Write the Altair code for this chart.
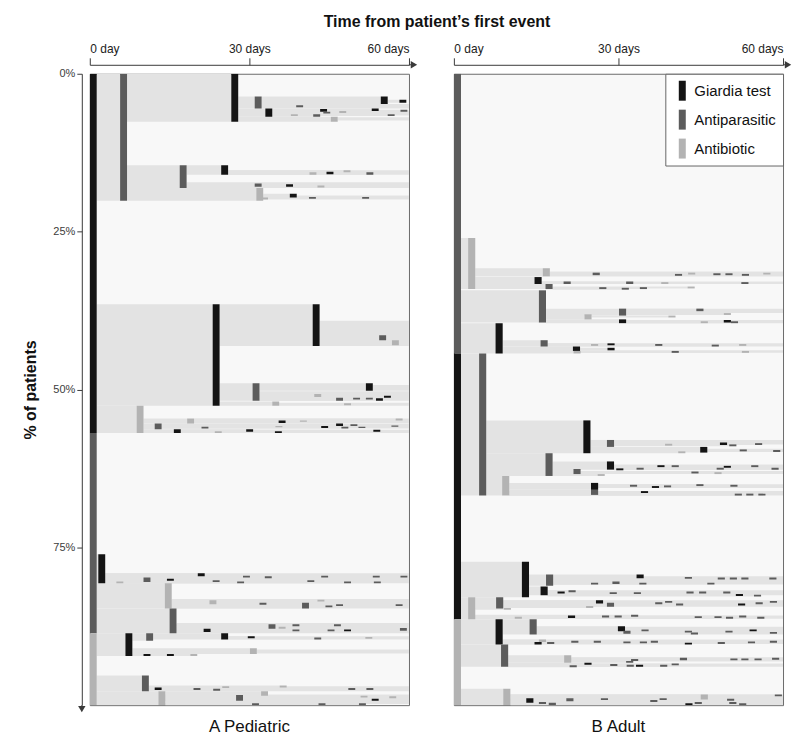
import altair as alt
import pandas as pd

# ------------------------------------------------------------------
# Data: one row per event node of the sequence tree
# (id, parent id, kind, start day, top %, bottom %)
# kind: T = Giardia test, P = antiparasitic, B = antibiotic, - = none in window
# ------------------------------------------------------------------
PED_ROOTS = [
    ("P1", None, "T", 0, 0, 56.9),
    ("P2", None, "P", 0, 56.9, 88.6),
    ("P3", None, "B", 0, 88.6, 100),
]

PED_TEST_BRANCH = [
    ("P1a", "P1", "P", 5.7, 0, 20.1),
    ("P1b", "P1", "T", 23.1, 36.5, 52.6),
    ("P1c", "P1", "B", 8.8, 52.6, 56.9),
    ("P1a1", "P1a", "T", 26.6, 0, 7.6),
    ("P1a2", "P1a", "P", 16.9, 14.5, 18.1),
    ("P1a3", "P1a", "B", 31.3, 18.1, 20.1),
    ("P1a1a", "P1a1", "P", 31.0, 3.6, 5.5),
    ("P1a1b", "P1a1", "T", 33.0, 5.5, 6.8),
    ("P1a1c", "P1a1", "B", 45.3, 6.8, 7.6),
    ("P1a1a1", "P1a1a", "T", 54.7, 3.6, 4.8),
    (None, "P1a1a1", "T", 58.2, 4.1, 4.6),
    (None, "P1a1a", "-", 60, 4.8, 5.5),
    (None, "P1a1a", "P", 38.8, 5.0, 5.3),
    (None, "P1a1b", "-", 60, 5.8, 6.6),
    (None, "P1a1b", "T", 43.3, 5.6, 6.0),
    (None, "P1a1b", "P", 43.9, 6.0, 6.3),
    (None, "P1a1b", "B", 46.9, 5.9, 6.2),
    (None, "P1a1b", "T", 53.0, 5.5, 5.9),
    (None, "P1a1b", "P", 58.4, 5.7, 6.0),
    (None, "P1a1b", "B", 37.8, 6.4, 6.7),
    (None, "P1a1b", "P", 42.0, 6.4, 6.8),
    (None, "P1a1b", "P", 56.0, 6.4, 6.7),
    (None, "P1a1c", "-", 60, 6.9, 7.4),
    ("P1a2a", "P1a2", "T", 24.7, 14.5, 16.0),
    (None, "P1a2a", "-", 60, 15.3, 16.0),
    (None, "P1a2a", "B", 41.3, 15.6, 16.0),
    (None, "P1a2a", "T", 44.5, 15.5, 15.9),
    (None, "P1a2a", "B", 47.7, 15.3, 15.6),
    (None, "P1a2a", "P", 52.0, 15.6, 16.0),
    (None, "P1a2", "-", 60, 17.2, 18.1),
    (None, "P1a2", "T", 36.9, 17.5, 17.9),
    (None, "P1a2", "P", 31.0, 17.4, 17.9),
    (None, "P1a2", "B", 42.8, 17.7, 18.0),
    (None, "P1a3", "-", 60, 19.3, 19.9),
    (None, "P1a3", "T", 37.6, 19.0, 19.6),
    (None, "P1a3", "P", 41.2, 19.5, 19.8),
    (None, "P1a3", "P", 51.2, 19.5, 19.8),
    (None, "P1a3", "B", 32.2, 19.6, 19.9),
    ("P1b1", "P1b", "T", 41.9, 36.5, 43.1),
    ("P1b2", "P1b", "P", 30.6, 49.0, 51.8),
    ("P1b3", "P1b", "B", 34.3, 51.9, 52.6),
    (None, "P1b1", "-", 60, 39.1, 43.1),
    (None, "P1b1", "P", 54.4, 41.4, 42.2),
    (None, "P1b1", "B", 56.8, 42.2, 43.0),
    ("P1b2a", "P1b2", "T", 51.9, 49.0, 50.2),
    (None, "P1b2a", "-", 60, 49.3, 50.2),
    (None, "P1b2", "-", 60, 50.3, 51.8),
    (None, "P1b2", "B", 42.2, 50.7, 51.2),
    (None, "P1b2", "P", 46.3, 51.3, 51.8),
    (None, "P1b2", "T", 53.8, 51.4, 51.8),
    (None, "P1b2", "T", 55.3, 51.0, 51.3),
    (None, "P1b2", "P", 49.5, 51.3, 51.6),
    (None, "P1b2", "P", 51.9, 51.3, 51.6),
    (None, "P1b3", "-", 60, 52.1, 52.6),
    (None, "P1b3", "B", 47.8, 52.2, 52.5),
    ("P1c1", "P1c", "B", 18.3, 54.6, 55.4),
    ("P1c2", "P1c", "P", 12.2, 55.4, 56.3),
    ("P1c3", "P1c", "T", 15.8, 56.3, 56.9),
    (None, "P1c1", "-", 60, 54.6, 55.3),
    (None, "P1c1", "T", 35.5, 54.9, 55.3),
    (None, "P1c1", "B", 39.5, 54.9, 55.1),
    (None, "P1c1", "B", 57.5, 54.6, 54.9),
    (None, "P1c2", "-", 60, 55.4, 56.2),
    (None, "P1c2", "P", 21.0, 55.9, 56.2),
    (None, "P1c2", "T", 43.5, 55.8, 56.1),
    (None, "P1c2", "T", 46.3, 55.4, 55.8),
    (None, "P1c2", "P", 47.3, 55.9, 56.2),
    (None, "P1c2", "P", 49.0, 55.5, 55.8),
    (None, "P1c2", "P", 50.5, 55.9, 56.1),
    (None, "P1c2", "P", 56.7, 55.7, 55.9),
    (None, "P1c2", "B", 34.9, 55.8, 56.0),
    (None, "P1c3", "-", 60, 56.4, 56.9),
    (None, "P1c3", "T", 29.4, 56.3, 56.7),
    (None, "P1c3", "T", 34.8, 56.6, 56.9),
    (None, "P1c3", "T", 53.3, 56.4, 56.7),
    (None, "P1c3", "B", 23.5, 56.6, 56.9),
]

PED_ANTI_BRANCH = [
    ("P2a", "P2", "T", 1.6, 76.1, 80.7),
    ("P2b", "P2", "B", 14.1, 80.7, 84.7),
    ("P2c", "P2", "P", 15.0, 84.7, 88.6),
    (None, "P2a", "-", 60, 79.1, 80.7),
    (None, "P2a", "T", 20.3, 79.1, 79.6),
    (None, "P2a", "P", 28.8, 79.5, 79.8),
    (None, "P2a", "P", 32.9, 79.6, 79.9),
    (None, "P2a", "P", 43.5, 79.5, 79.8),
    (None, "P2a", "P", 53.2, 79.5, 79.8),
    (None, "P2a", "P", 58.4, 79.5, 79.8),
    (None, "P2a", "P", 10.1, 79.8, 80.5),
    (None, "P2a", "T", 14.5, 80.0, 80.3),
    (None, "P2a", "P", 23.1, 80.2, 80.5),
    (None, "P2a", "P", 27.7, 80.4, 80.7),
    (None, "P2a", "P", 40.9, 80.2, 80.5),
    (None, "P2a", "P", 47.8, 80.4, 80.7),
    (None, "P2a", "P", 53.4, 80.4, 80.7),
    (None, "P2a", "B", 5.0, 80.4, 80.7),
    (None, "P2b", "-", 60, 83.2, 84.7),
    (None, "P2b", "B", 22.5, 83.4, 84.0),
    (None, "P2b", "P", 39.9, 83.8, 84.7),
    (None, "P2b", "P", 31.9, 83.8, 84.1),
    (None, "P2b", "P", 44.3, 84.2, 84.5),
    (None, "P2b", "P", 46.3, 84.0, 84.3),
    (None, "P2b", "B", 42.8, 83.3, 83.6),
    (None, "P2b", "P", 57.5, 84.0, 84.3),
    (None, "P2c", "-", 60, 87.0, 88.6),
    (None, "P2c", "T", 21.4, 87.9, 88.4),
    (None, "P2c", "P", 33.6, 87.2, 87.9),
    (None, "P2c", "P", 38.1, 87.2, 87.5),
    (None, "P2c", "P", 45.9, 87.2, 87.5),
    (None, "P2c", "P", 38.1, 88.0, 88.3),
    (None, "P2c", "P", 44.7, 88.0, 88.3),
    (None, "P2c", "T", 47.8, 88.0, 88.3),
    (None, "P2c", "P", 58.3, 87.8, 88.2),
    (None, "P2c", "B", 35.5, 87.6, 87.9),
]

PED_ABX_BRANCH = [
    ("P3a", "P3", "T", 6.7, 88.6, 92.2),
    ("P3b", "P3", "P", 9.8, 95.3, 97.8),
    ("P3c", "P3", "B", 12.9, 97.8, 100),
    ("P3a1", "P3a", "P", 10.6, 88.6, 89.8),
    ("P3a1a", "P3a1", "T", 24.7, 88.6, 89.6),
    (None, "P3a1a", "-", 60, 89.1, 89.6),
    (None, "P3a1a", "T", 29.7, 89.1, 89.4),
    (None, "P3a1a", "P", 42.2, 89.3, 89.6),
    (None, "P3a1a", "B", 51.8, 89.2, 89.5),
    ("P3a2", "P3a", "B", 30.1, 91.0, 91.9),
    (None, "P3a2", "-", 60, 91.2, 91.8),
    (None, "P3a", "T", 10.1, 91.9, 92.2),
    (None, "P3a", "T", 14.5, 91.9, 92.2),
    (None, "P3a", "B", 18.9, 91.9, 92.2),
    (None, "P3b", "-", 60, 97.0, 97.8),
    (None, "P3b", "T", 12.2, 97.2, 97.6),
    (None, "P3b", "P", 19.5, 97.3, 97.6),
    (None, "P3b", "P", 23.2, 97.4, 97.7),
    (None, "P3b", "B", 24.9, 97.0, 97.3),
    (None, "P3b", "B", 35.7, 96.9, 97.2),
    (None, "P3b", "P", 48.6, 97.3, 97.6),
    (None, "P3b", "P", 52.0, 97.3, 97.6),
    (None, "P3c", "-", 60, 98.3, 99.8),
    (None, "P3c", "B", 32.2, 97.8, 98.5),
    (None, "P3c", "P", 27.5, 98.4, 99.3),
    (None, "P3c", "T", 53.0, 99.0, 99.3),
    (None, "P3c", "P", 30.5, 99.7, 100),
    (None, "P3c", "B", 50.9, 98.5, 98.8),
    (None, "P3c", "B", 56.3, 98.6, 98.9),
    (None, "P3c", "P", 43.0, 99.7, 100),
    (None, "P3c", "P", 50.6, 99.7, 100),
]

AD_ROOTS = [
    ("A1", None, "P", 0, 0, 44.3),
    ("A2", None, "T", 0, 44.3, 86.4),
    ("A3", None, "B", 0, 86.4, 100),
]

AD_ANTI_BRANCH = [
    ("A1a", "A1", "B", 2.6, 26.0, 34.1),
    ("A1b", "A1", "P", 15.5, 34.3, 39.4),
    ("A1c", "A1", "T", 7.6, 39.5, 44.3),
    ("A1a1", "A1a", "B", 16.2, 30.8, 32.1),
    ("A1a2", "A1a", "T", 14.7, 32.2, 33.3),
    ("A1a3", "A1a", "P", 16.7, 33.3, 34.1),
    (None, "A1a1", "-", 60, 31.3, 32.1),
    (None, "A1a1", "P", 25.3, 31.5, 31.9),
    (None, "A1a1", "P", 40.3, 31.7, 32.0),
    (None, "A1a1", "P", 47.3, 31.6, 31.9),
    (None, "A1a1", "P", 49.5, 31.6, 31.9),
    (None, "A1a1", "B", 42.7, 31.5, 31.8),
    (None, "A1a1", "P", 52.5, 31.7, 32.0),
    (None, "A1a1", "B", 56.4, 31.5, 31.8),
    (None, "A1a2", "-", 60, 32.9, 33.3),
    (None, "A1a2", "P", 20.0, 32.9, 33.3),
    (None, "A1a2", "P", 31.4, 32.9, 33.3),
    (None, "A1a2", "P", 52.4, 33.0, 33.3),
    (None, "A1a2", "B", 37.8, 33.0, 33.3),
    (None, "A1a3", "P", 26.5, 33.8, 34.1),
    (None, "A1a3", "P", 30.6, 33.9, 34.2),
    (None, "A1a3", "P", 33.9, 33.8, 34.1),
    (None, "A1a3", "B", 42.6, 33.7, 34.0),
    ("A1b1", "A1b", "P", 30.1, 37.2, 38.3),
    ("A1b2", "A1b", "B", 23.8, 38.1, 38.9),
    ("A1b3", "A1b", "T", 30.1, 38.9, 39.5),
    (None, "A1b1", "-", 60, 37.2, 37.9),
    (None, "A1b1", "P", 44.2, 37.2, 37.6),
    (None, "A1b1", "B", 49.2, 37.9, 38.2),
    (None, "A1b2", "B", 39.1, 38.3, 38.6),
    (None, "A1b3", "-", 60, 39.0, 39.5),
    (None, "A1b3", "T", 49.2, 39.0, 39.4),
    (None, "A1b3", "P", 50.5, 39.2, 39.5),
    (None, "A1b3", "B", 45.0, 39.2, 39.5),
    ("A1c1", "A1c", "P", 15.8, 42.2, 43.2),
    ("A1c2", "A1c", "T", 21.7, 43.2, 43.9),
    (None, "A1c", "B", 21.8, 43.9, 44.3),
    (None, "A1c1", "-", 60, 42.7, 43.2),
    (None, "A1c1", "B", 25.0, 42.8, 43.1),
    (None, "A1c1", "T", 28.0, 42.7, 43.0),
    (None, "A1c1", "P", 36.7, 42.8, 43.1),
    (None, "A1c1", "P", 47.0, 42.9, 43.2),
    (None, "A1c1", "B", 52.0, 42.8, 43.1),
    (None, "A1c2", "-", 60, 43.8, 44.2),
    (None, "A1c2", "T", 28.0, 43.4, 43.8),
    (None, "A1c2", "P", 39.7, 43.9, 44.2),
    (None, "A1c2", "B", 52.5, 43.9, 44.2),
]

AD_TEST_BRANCH = [
    ("A2a", "A2", "P", 4.6, 44.3, 66.8),
    ("A2b", "A2", "T", 12.4, 77.3, 82.9),
    ("A2c", "A2", "B", 2.6, 82.9, 86.4),
    ("A2a1", "A2a", "T", 23.6, 54.9, 60.1),
    ("A2a2", "A2a", "P", 16.7, 60.1, 63.7),
    ("A2a3", "A2a", "B", 8.8, 63.7, 66.8),
    ("A2a1a", "A2a1", "P", 27.9, 58.0, 59.1),
    ("A2a1b", "A2a1", "T", 44.9, 59.1, 60.0),
    (None, "A2a1", "B", 40.9, 59.8, 60.1),
    (None, "A2a1a", "-", 60, 58.0, 58.7),
    (None, "A2a1a", "T", 48.5, 58.4, 58.8),
    (None, "A2a1a", "B", 38.5, 58.6, 58.9),
    (None, "A2a1a", "P", 50.2, 58.7, 59.0),
    (None, "A2a1a", "P", 54.9, 58.5, 58.8),
    (None, "A2a1b", "-", 60, 59.4, 59.9),
    (None, "A2a1b", "P", 52.1, 59.5, 59.8),
    (None, "A2a1b", "P", 58.2, 59.6, 59.9),
    ("A2a2a", "A2a2", "T", 27.9, 61.4, 62.7),
    ("A2a2b", "A2a2", "P", 21.8, 62.6, 63.4),
    (None, "A2a2", "B", 26.2, 63.4, 63.7),
    (None, "A2a2a", "-", 60, 61.9, 62.7),
    (None, "A2a2a", "T", 29.6, 62.5, 62.8),
    (None, "A2a2a", "P", 33.3, 62.4, 62.7),
    (None, "A2a2a", "T", 37.1, 62.0, 62.3),
    (None, "A2a2a", "P", 39.7, 62.0, 62.3),
    (None, "A2a2a", "T", 49.2, 62.1, 62.4),
    (None, "A2a2a", "P", 47.9, 62.4, 62.7),
    (None, "A2a2a", "P", 54.2, 62.0, 62.3),
    (None, "A2a2a", "P", 57.9, 62.4, 62.7),
    (None, "A2a2b", "-", 60, 62.9, 63.4),
    (None, "A2a2b", "P", 43.3, 63.0, 63.3),
    (None, "A2a2b", "B", 47.5, 63.1, 63.4),
    ("A2a3a", "A2a3", "T", 25.0, 64.8, 65.9),
    (None, "A2a3", "P", 25.0, 65.9, 66.7),
    (None, "A2a3a", "-", 60, 65.0, 65.6),
    (None, "A2a3a", "P", 32.1, 65.1, 65.4),
    (None, "A2a3a", "T", 36.1, 65.3, 65.6),
    (None, "A2a3a", "P", 38.3, 65.2, 65.5),
    (None, "A2a3a", "P", 44.2, 65.0, 65.3),
    (None, "A2a3a", "P", 50.4, 65.1, 65.4),
    (None, "A2a3", "-", 60, 66.1, 66.8),
    (None, "A2a3", "T", 34.1, 66.1, 66.4),
    (None, "A2a3", "P", 51.2, 66.5, 66.8),
    (None, "A2a3", "P", 53.3, 66.5, 66.8),
    (None, "A2a3", "P", 55.5, 66.5, 66.8),
    ("A2b1", "A2b", "P", 16.8, 79.3, 81.1),
    ("A2b2", "A2b", "T", 15.8, 81.2, 82.6),
    (None, "A2b1", "-", 60, 79.6, 80.9),
    (None, "A2b1", "T", 33.3, 79.3, 79.9),
    (None, "A2b1", "P", 28.9, 80.4, 80.8),
    (None, "A2b1", "P", 25.0, 80.6, 80.9),
    (None, "A2b1", "P", 33.8, 80.6, 80.9),
    (None, "A2b1", "P", 46.2, 80.6, 80.9),
    (None, "A2b1", "P", 42.1, 79.7, 80.0),
    (None, "A2b1", "P", 48.1, 79.8, 80.1),
    (None, "A2b1", "P", 50.3, 79.8, 80.1),
    (None, "A2b1", "P", 52.4, 79.8, 80.1),
    (None, "A2b1", "P", 57.5, 79.8, 80.1),
    (None, "A2b2", "-", 60, 81.8, 82.6),
    (None, "A2b2", "T", 18.9, 82.0, 82.3),
    (None, "A2b2", "P", 20.9, 81.8, 82.1),
    (None, "A2b2", "P", 28.4, 82.1, 82.4),
    (None, "A2b2", "P", 32.8, 82.1, 82.4),
    (None, "A2b2", "P", 42.4, 82.0, 82.3),
    (None, "A2b2", "P", 44.7, 82.0, 82.3),
    (None, "A2b2", "P", 49.1, 82.0, 82.3),
    (None, "A2b2", "T", 51.4, 82.4, 82.7),
    (None, "A2b2", "P", 54.7, 82.5, 82.8),
    ("A2c1", "A2c", "P", 7.7, 82.9, 84.7),
    (None, "A2c1", "-", 60, 83.4, 84.4),
    (None, "A2c1", "T", 25.9, 83.4, 83.9),
    (None, "A2c1", "P", 27.9, 83.8, 84.4),
    (None, "A2c1", "P", 36.7, 83.7, 84.0),
    (None, "A2c1", "P", 38.5, 83.5, 83.8),
    (None, "A2c1", "P", 40.5, 83.9, 84.2),
    (None, "A2c1", "T", 51.8, 83.9, 84.2),
    (None, "A2c1", "P", 55.0, 83.7, 84.0),
    (None, "A2c1", "P", 57.6, 83.5, 83.8),
    (None, "A2c1", "B", 24.1, 84.3, 84.6),
    (None, "A2c", "B", 9.1, 84.6, 84.9),
    (None, "A2c", "-", 60, 85.8, 86.3),
    (None, "A2c", "B", 11.1, 86.0, 86.3),
    (None, "A2c", "T", 20.8, 85.8, 86.2),
    (None, "A2c", "P", 27.0, 85.8, 86.1),
    (None, "A2c", "P", 29.3, 85.8, 86.1),
    (None, "A2c", "P", 32.3, 85.7, 86.0),
    (None, "A2c", "P", 43.9, 85.9, 86.2),
    (None, "A2c", "P", 47.5, 85.9, 86.2),
    (None, "A2c", "P", 49.6, 86.0, 86.3),
    (None, "A2c", "P", 52.0, 85.8, 86.1),
    (None, "A2c", "P", 55.3, 86.0, 86.3),
]

AD_ABX_BRANCH = [
    ("A3a", "A3", "T", 7.6, 86.4, 90.4),
    ("A3b", "A3", "P", 8.6, 90.4, 93.9),
    ("A3c", "A3", "B", 9.0, 97.4, 100),
    ("A3a1", "A3a", "P", 13.8, 86.4, 88.8),
    (None, "A3a1", "-", 60, 87.6, 88.8),
    (None, "A3a1", "T", 29.9, 87.5, 88.3),
    (None, "A3a1", "P", 30.9, 88.2, 88.7),
    (None, "A3a1", "P", 34.2, 88.0, 88.3),
    (None, "A3a1", "P", 42.1, 88.2, 88.5),
    (None, "A3a1", "P", 43.2, 88.5, 88.8),
    (None, "A3a1", "P", 49.5, 88.2, 88.5),
    (None, "A3a1", "T", 53.9, 88.0, 88.3),
    (None, "A3a1", "P", 57.6, 88.4, 88.7),
    (None, "A3a", "-", 60, 89.6, 90.3),
    (None, "A3a", "B", 15.5, 89.6, 90.0),
    (None, "A3a", "T", 14.7, 90.0, 90.4),
    (None, "A3a", "P", 17.0, 90.0, 90.3),
    (None, "A3a", "P", 21.4, 89.8, 90.1),
    (None, "A3a", "P", 25.5, 89.8, 90.1),
    (None, "A3a", "P", 30.9, 89.9, 90.2),
    (None, "A3a", "P", 33.9, 89.9, 90.2),
    (None, "A3a", "P", 35.9, 89.8, 90.1),
    (None, "A3a", "T", 42.1, 90.1, 90.4),
    (None, "A3a", "P", 48.1, 90.0, 90.3),
    (None, "A3a", "P", 53.6, 89.9, 90.2),
    (None, "A3a", "P", 57.6, 89.8, 90.1),
    ("A3b1", "A3b", "B", 20.1, 92.1, 93.3),
    (None, "A3b", "T", 23.8, 93.3, 93.6),
    (None, "A3b", "P", 21.1, 93.7, 94.0),
    (None, "A3b1", "-", 60, 92.4, 93.1),
    (None, "A3b1", "P", 41.2, 92.5, 92.9),
    (None, "A3b1", "P", 31.4, 93.0, 93.3),
    (None, "A3b1", "P", 32.3, 92.7, 93.0),
    (None, "A3b1", "P", 50.4, 92.6, 92.9),
    (None, "A3b1", "P", 52.4, 92.6, 92.9),
    (None, "A3b1", "P", 54.8, 92.6, 92.9),
    (None, "A3b1", "P", 58.0, 92.5, 92.8),
    (None, "A3b", "-", 60, 93.4, 93.9),
    (None, "A3b", "P", 28.5, 93.5, 93.8),
    (None, "A3b", "P", 31.5, 93.6, 93.9),
    (None, "A3b", "T", 33.2, 93.6, 93.9),
    (None, "A3b", "P", 37.6, 93.6, 93.9),
    (None, "A3b", "P", 39.7, 93.4, 93.7),
    (None, "A3c", "-", 60, 98.3, 100),
    (None, "A3c", "B", 45.0, 98.3, 99.1),
    (None, "A3c", "T", 13.2, 98.9, 99.6),
    (None, "A3c", "P", 20.5, 98.9, 99.4),
    (None, "A3c", "P", 17.3, 99.6, 100),
    (None, "A3c", "P", 15.5, 99.5, 99.8),
    (None, "A3c", "P", 26.8, 98.9, 99.2),
    (None, "A3c", "P", 35.8, 99.2, 99.5),
    (None, "A3c", "P", 37.5, 98.9, 99.2),
    (None, "A3c", "T", 42.2, 99.7, 100),
    (None, "A3c", "P", 43.9, 99.5, 99.8),
    (None, "A3c", "P", 49.8, 99.0, 99.3),
    (None, "A3c", "P", 50.2, 99.5, 99.8),
    (None, "A3c", "P", 52.0, 99.7, 100),
    (None, "A3c", "P", 58.5, 98.3, 98.6),
]

KIND_LABEL = {"T": "Giardia test", "P": "Antiparasitic", "B": "Antibiotic"}
KIND_ORDER = ["Giardia test", "Antiparasitic", "Antibiotic"]

# ------------------------------------------------------------------
# styling
# ------------------------------------------------------------------
FONT = "Liberation Sans"
W_DAYS = 1.3          # drawn width of one event bar (days)
WINDOW_END = 60
KIND_COLOR = ["#141414", "#5c5c5c", "#b3b3b3"]
SPAN_COLOR = "#e3e3e3"
AXIS_COLOR = "#3a3a3a"
PLOT_H = 633


def build(rows):
    start = {r[0]: r[3] for r in rows if r[0]}
    events, spans = [], []
    for rid, parent, kind, day, top, bottom in rows:
        if kind in KIND_LABEL:
            events.append({"kind": KIND_LABEL[kind], "start": day,
                           "end": day + W_DAYS, "top": top, "bottom": bottom})
        if parent is not None:
            s = start[parent] + W_DAYS
            if day > s:
                spans.append({"start": s, "end": min(day, WINDOW_END),
                              "top": top, "bottom": bottom})
    return pd.DataFrame(events), pd.DataFrame(spans)


def panel(rows, width, label, show_y, legend, title_offset):
    ev, sp = build(rows)
    xs = alt.Scale(domain=[0, WINDOW_END], nice=False, zero=False)
    ys = alt.Scale(domain=[0, 100], reverse=True, nice=False, zero=False)
    x_axis = alt.Axis(
        orient="top", values=[0, 30, 60],
        labelExpr="datum.value == 0 ? '0 day' : datum.value + ' days'",
        labelFlush=True, offset=9, tickSize=7, domainColor=AXIS_COLOR,
        tickColor=AXIS_COLOR, labelColor="#222", labelFontSize=12,
        labelPadding=2, grid=False, title=None, labelFont=FONT,
    )
    if show_y:
        y_axis = alt.Axis(
            values=[0, 25, 50, 75], labelExpr="datum.value + '%'",
            offset=8, tickSize=5, domainColor=AXIS_COLOR, tickColor=AXIS_COLOR,
            labelColor="#3c3c3c", labelFontSize=11, labelPadding=2, grid=False,
            title="% of patients", titleFontSize=16, titleFontWeight="bold",
            titleColor="#111", titlePadding=14, labelFont=FONT, titleFont=FONT,
        )
    else:
        y_axis = None

    enc = dict(
        x=alt.X("start:Q", scale=xs, axis=x_axis), x2="end:Q",
        y=alt.Y("top:Q", scale=ys, axis=y_axis), y2="bottom:Q",
    )
    spans = alt.Chart(sp).mark_rect(color=SPAN_COLOR, clip=True).encode(**enc)
    events = alt.Chart(ev).mark_rect(clip=True).encode(
        color=alt.Color("kind:N", scale=alt.Scale(domain=KIND_ORDER, range=KIND_COLOR),
                        legend=legend),
        **enc,
    )
    one = pd.DataFrame({"m": [0]})
    x_shaft = alt.Chart(one).mark_rule(color=AXIS_COLOR).encode(
        x=alt.value(width), x2=alt.value(width + 3), y=alt.value(-9))
    x_head = alt.Chart(one).mark_point(shape="triangle-right", filled=True,
                                       color=AXIS_COLOR, size=55, opacity=1).encode(
        x=alt.value(width + 5), y=alt.value(-9))
    layers = [spans, events, x_shaft, x_head]
    if show_y:
        y_shaft = alt.Chart(one).mark_rule(color=AXIS_COLOR).encode(
            x=alt.value(-8), y=alt.value(PLOT_H), y2=alt.value(PLOT_H + 3))
        y_head = alt.Chart(one).mark_point(shape="triangle-down", filled=True,
                                           color=AXIS_COLOR, size=55, opacity=1).encode(
            x=alt.value(-8), y=alt.value(PLOT_H + 4))
        layers += [y_shaft, y_head]
    return alt.layer(*layers).properties(
        width=width, height=PLOT_H,
        title=alt.TitleParams(label, orient="bottom", fontSize=17, fontWeight="normal",
                              font=FONT, color="#111", offset=title_offset),
    )


legend = alt.Legend(
    title=None, orient="top-right", offset=0, padding=7,
    fillColor="white", strokeColor="#666",
    symbolType="M-0.35,-1H0.35V1H-0.35Z", symbolSize=400, symbolStrokeWidth=0,
    labelFontSize=15, labelFont=FONT, labelColor="#111", rowPadding=9, labelOffset=2,
)

left = panel(PED_ROOTS + PED_TEST_BRANCH + PED_ANTI_BRANCH + PED_ABX_BRANCH,
             320, "A Pediatric", True, None, 7)
right = panel(AD_ROOTS + AD_ANTI_BRANCH + AD_TEST_BRANCH + AD_ABX_BRANCH,
              330, "B Adult", False, legend, 14)

chart = (
    alt.hconcat(left, right, spacing=45, bounds="flush")
    .resolve_scale(color="independent", x="independent", y="independent")
    .resolve_legend(color="independent")
    .properties(
        title=alt.TitleParams("Time from patient\u2019s first event", fontSize=16,
                              fontWeight="bold", anchor="middle", font=FONT,
                              color="#111", offset=12, dx=30),
        padding={"left": 14, "top": 5, "right": 0, "bottom": 0},
    )
    .configure_view(fill="#f8f8f8", stroke="#6b6b6b", strokeWidth=1)
)

chart.save("out.html", embed_options={"renderer": "svg", "actions": False})
